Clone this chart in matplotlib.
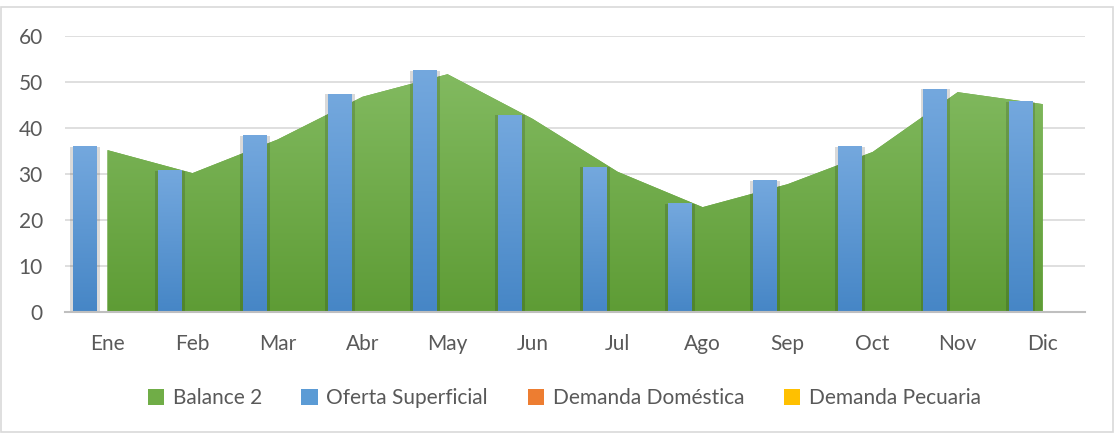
import numpy as np
import matplotlib
matplotlib.use("Agg")
import matplotlib.pyplot as plt
from matplotlib.colors import LinearSegmentedColormap
from matplotlib.patches import Patch, Rectangle

meses = ["Ene", "Feb", "Mar", "Abr", "May", "Jun", "Jul", "Ago", "Sep", "Oct", "Nov", "Dic"]
balance_2 = [35.2, 30.2, 37.5, 46.8, 51.7, 42.0, 30.5, 22.8, 27.8, 34.8, 47.8, 45.2]
oferta_superficial = [35.9, 30.7, 38.3, 47.3, 52.4, 42.8, 31.5, 23.5, 28.5, 35.9, 48.4, 45.7]
demanda_domestica = [0.25] * 12
demanda_pecuaria = [0.05] * 12
y_ticks = [0, 10, 20, 30, 40, 50, 60]

txt = "#595959"
plt.rcParams["font.family"] = ["Lato", "DejaVu Sans"]

fig = plt.figure(figsize=(11.15, 4.34), dpi=100)
fig.patches.append(Rectangle((0.001, 0.004), 0.997, 0.98, transform=fig.transFigure,
                             fill=False, edgecolor="#D9D9D9", linewidth=1.2))
ax = fig.add_axes([0.0583, 0.281, 0.915, 0.636])

x = np.arange(len(meses))

# area with vertical gradient, clipped to the filled polygon
green = LinearSegmentedColormap.from_list("g", ["#5E9C35", "#82BA60"])
poly = ax.fill_between(x, 0, balance_2, facecolor="#6AA83F", edgecolor="none", zorder=1)
grad = np.linspace(0, 1, 256).reshape(-1, 1)
im = ax.imshow(grad, extent=[-0.5, 11.5, 0, max(balance_2)], origin="lower",
               aspect="auto", cmap=green, zorder=1.1)
im.set_clip_path(poly.get_paths()[0], transform=ax.transData)

# clustered bars
w = 0.275
blue = LinearSegmentedColormap.from_list("b", ["#4686C6", "#74A8DE"])
for xi, v in zip(x, oferta_superficial):
    x0 = xi - 1.5 * w + 0.01
    ax.add_patch(Rectangle((x0 - 0.035, 0), w + 0.07, v, facecolor="black",
                           alpha=0.15, edgecolor="none", zorder=2))
    ax.imshow(grad, extent=[x0, x0 + w, 0, v], origin="lower", aspect="auto",
              cmap=blue, zorder=3)
ax.bar(x + 0.01, demanda_domestica, width=w, color="#ED7D31", zorder=3)
ax.bar(x + w + 0.01, demanda_pecuaria, width=w, color="#FFC000", zorder=3)

ax.set_xlim(-0.5, 11.5)
ax.set_ylim(0, 60)
ax.set_yticks(y_ticks)
ax.set_xticks(x)
ax.set_xticklabels(meses)
ax.yaxis.grid(True, color="#D9D9D9", linewidth=1.2, zorder=0)
ax.set_axisbelow(True)
for s in ["top", "right", "left"]:
    ax.spines[s].set_visible(False)
ax.spines["bottom"].set_color("#BFBFBF")
ax.spines["bottom"].set_linewidth(1.5)
ax.spines["bottom"].set_zorder(4)
ax.tick_params(axis="both", length=0, labelsize=15, labelcolor=txt)
ax.tick_params(axis="x", pad=16)
ax.tick_params(axis="y", pad=16)

handles = [Patch(facecolor="#70AD47"), Patch(facecolor="#5B9BD5"),
           Patch(facecolor="#ED7D31"), Patch(facecolor="#FFC000")]
labels = ["Balance 2", "Oferta Superficial", "Demanda Doméstica", "Demanda Pecuaria"]
fig.legend(handles, labels, loc="center", bbox_to_anchor=(0.506, 0.083), ncol=4,
           frameon=False, fontsize=15, labelcolor=txt, handlelength=0.8,
           handleheight=0.8, handletextpad=0.4, columnspacing=1.9)

fig.savefig("out.png", dpi=100)
